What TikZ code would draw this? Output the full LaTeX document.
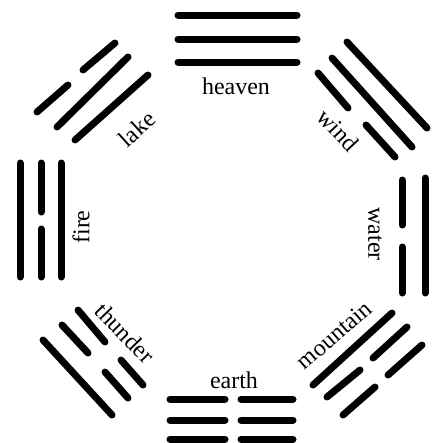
\documentclass[tikz,border=0pt]{standalone}
\usepackage{fontspec}
\setmainfont{Liberation Serif}
\begin{document}
\begin{tikzpicture}[x=1pt,y=1pt,bar/.style={line width=7pt,line cap=round},
    lbl/.style={font=\fontsize{24}{24}\selectfont,inner sep=0pt}]
  \useasboundingbox (0,0) rectangle (443,-442);
  \clip (0,0) rectangle (443,-442);
  % trigramy nahore a dole (vodorovne cary)
  \foreach \y in {15,39,62}
    \draw[bar] (178,-\y) -- (297,-\y);
  \foreach \y in {399,420,439}
    \draw[bar] (170,-\y) -- (225,-\y) (241,-\y) -- (293,-\y);
  % vlevo a vpravo (svisle cary)
  \draw[bar] (20,-163) -- (20,-277) (61,-163) -- (61,-277);
  \draw[bar] (41,-163) -- (41,-212) (41,-229) -- (41,-277);
  \draw[bar] (425,-178) -- (425,-293);
  \foreach \x in {402,447}
    \draw[bar] (\x,-180) -- (\x,-225) (\x,-247) -- (\x,-293);
  % sikme trigramy
  \foreach \xa/\ya/\xb/\yb in {37/112/68/85,83/70/115/43,57/127/128/57,75/140/148/75,
      347/42/427/128,332/58/412/147,318/73/348/108,366/125/395/157,
      43/340/112/415,62/325/88/353,105/372/128/398,78/310/105/342,121/360/143/385,
      313/385/392/313,327/397/360/370,373/358/407/327,343/415/375/387,388/375/422/345}
    \draw[bar] (\xa,-\ya) -- (\xb,-\yb);
  % popisky
  \node[lbl] (heaven) at (236,-86) {heaven};
  \node[lbl] (earth) at (234,-380) {earth};
  \node[lbl,rotate=90] (fire) at (81,-227) {fire};
  \node[lbl,rotate=-90] (water) at (375,-234) {water};
  \node[lbl,rotate=42] (lake) at (137,-129) {lake};
  \node[lbl,rotate=-47] (wind) at (338,-130) {wind};
  \node[lbl,rotate=-46] (thunder) at (125,-333) {thunder};
  \node[lbl,rotate=41] (mountain) at (334,-335) {mountain};
\end{tikzpicture}
\end{document}
